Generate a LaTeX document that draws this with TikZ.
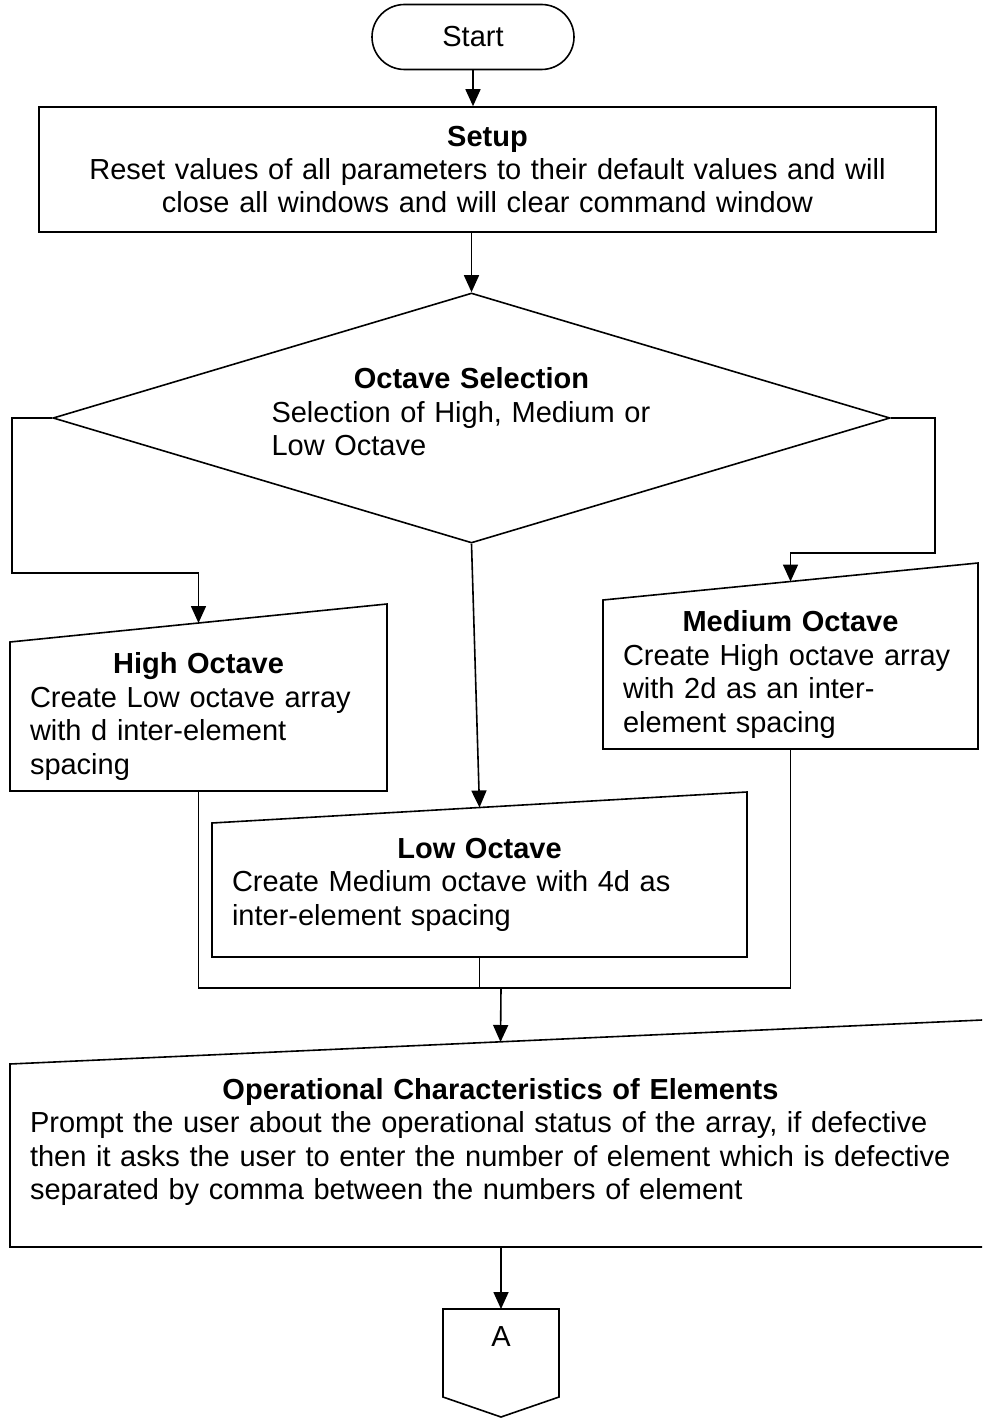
\documentclass[tikz,border=0pt]{standalone}
\usepackage{fontspec}
\setmainfont{Liberation Sans}
\usetikzlibrary{shapes.geometric,shapes.misc,arrows.meta}

\newcommand{\flowfont}{\fontsize{29pt}{33.4pt}\selectfont}
\newcommand{\heading}[1]{{\centering\bfseries #1\par}}
% outline of a manual input box, top edge rising to the right
\newcommand{\manualframe}[2]{\draw (#1.north west) -- (#1.south west) -- (#1.south east) -- ([yshift=#2]#1.north east) -- cycle;}

\begin{document}
\begin{tikzpicture}[x=1pt, y=-1pt, line width=1.6pt,
  every node/.style={font=\flowfont},
  arr/.style={-{Triangle[length=17pt,width=15pt]}},
  terminal/.style={rounded rectangle, draw, minimum width=202pt, minimum height=65pt, inner sep=0pt},
  process/.style={rectangle, draw, minimum width=897pt, minimum height=125pt, text width=860pt, align=center},
  decision/.style={diamond, draw, shape aspect=3.35, minimum width=837pt, minimum height=250pt, inner sep=0pt, text width=400pt, align=left},
  manual/.style={rectangle, outer sep=0pt, inner xsep=20pt, inner ysep=4pt, align=left},
  offpage/.style={rectangle, outer sep=0pt, minimum width=116pt, minimum height=56pt, inner sep=0pt}]
\useasboundingbox (0,0) rectangle (982,1418);
\clip (0,0) rectangle (982,1418);

\node[terminal] (start) at (473,37) {Start};
\node[process] (setup) at (487.5,169.5) {\heading{Setup}Reset values of all parameters to their default values and will\\ close all windows and will clear command window};
\node[decision] (select) at (471.5,418) {\heading{Octave Selection}Selection of High, Medium or\\ Low Octave\par\kern12pt};

\node[manual, text width=337pt, minimum height=149pt] (high) at (198.5,716.5) {\heading{High Octave}Create Low octave array\\ with d inter-element\\ spacing};
\manualframe{high}{38pt}
\node[manual, text width=335pt, minimum height=149pt] (medium) at (790.5,674.5) {\heading{Medium Octave}Create High octave array\\ with 2d as an inter-\\ element spacing};
\manualframe{medium}{37pt}
\node[manual, text width=495pt, minimum height=134pt] (low) at (479.5,890) {\heading{Low Octave}Create Medium octave with 4d as\\ inter-element spacing\par\kern11pt};
\manualframe{low}{31pt}

\node[manual, text width=941pt, minimum height=183pt] (oper) at (500.5,1155.5) {\heading{Operational Characteristics of Elements}Prompt the user about the operational status of the array, if defective\\ then it asks the user to enter the number of element which is defective\\ separated by comma between the numbers of element\par\kern27pt};
\manualframe{oper}{44.4pt}

\node[offpage] (conA) at (501,1337) {A};
\draw (conA.north west) -- (conA.north east) -- ([yshift=-32pt]conA.south east) -- ([yshift=-52pt]conA.south) -- ([yshift=-32pt]conA.south west) -- cycle;

% connectors
\coordinate (lbend) at (12,573);
\coordinate (rbend) at (935,553);
\coordinate (merge) at (501,988);
\draw[arr] (start.south) -- (start.south |- setup.north);
\draw[arr] (select.north |- setup.south) -- (select.north);
\draw[arr] (select.west) -| (lbend) -| ([yshift=19pt]high.north);
\draw[arr] (select.east) -| (rbend) -| ([yshift=18.5pt]medium.north);
\draw[arr] (select.south) -- ([yshift=15.5pt]low.north);
\draw (high.south) |- (merge);
\draw (medium.south) |- (merge);
\draw (low.south) -- (low.south |- merge);
\draw[arr] (merge) -- ([yshift=22pt]oper.north);
\draw[arr] (oper.south -| conA.north) -- (conA.north);
\end{tikzpicture}
\end{document}
